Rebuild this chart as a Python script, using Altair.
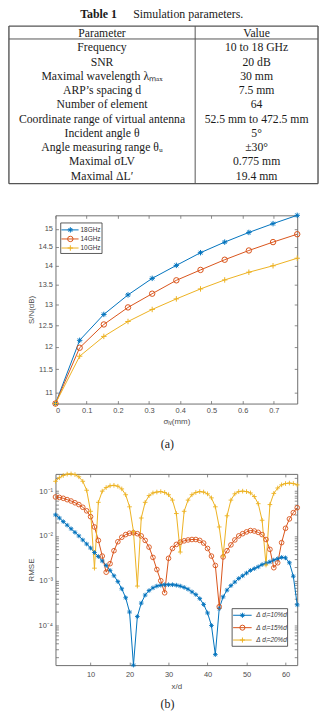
import altair as alt
import pandas as pd

# ---------------- data ----------------
table_title_bold = "Table 1"
table_title_text = "Simulation parameters."
table_parameters = [
    "Parameter", "Frequency", "SNR", "Maximal wavelength λₘₐₓ", "ARP’s spacing d",
    "Number of element", "Coordinate range of virtual antenna", "Incident angle θ",
    "Angle measuring range θᵤ", "Maximal σLV", "Maximal ΔL′",
]
table_values = [
    "Value", "10 to 18 GHz", "20 dB", "30 mm", "7.5 mm", "64", "52.5 mm to 472.5 mm",
    "5°", "±30°", "0.775 mm", "19.4 mm",
]

sigma_lv = [0, 0.0775, 0.155, 0.2325, 0.31, 0.3875, 0.465, 0.5425, 0.62, 0.6975, 0.775]
snr_18ghz = [10.78, 12.15, 12.76, 13.24, 13.66, 14.00, 14.34, 14.63, 14.90, 15.15, 15.39]
snr_14ghz = [10.78, 11.98, 12.52, 12.93, 13.27, 13.61, 13.88, 14.15, 14.40, 14.63, 14.85]
snr_10ghz = [10.78, 11.79, 12.24, 12.59, 12.88, 13.14, 13.39, 13.62, 13.82, 13.99, 14.19]
series_a = ["18GHz", "14GHz", "10GHz"]
snr_ticks = [11, 11.5, 12, 12.5, 13, 13.5, 14, 14.5, 15]
sigma_ticks = [0, 0.1, 0.2, 0.3, 0.4, 0.5, 0.6, 0.7]

x_over_d = list(range(1, 64))
# RMSE values, as base-10 exponents
rmse_10pct_exp = [
    -1.53, -1.60, -1.68, -1.76, -1.84, -1.92, -2.00, -2.09, -2.18, -2.27,
    -2.37, -2.46, -2.56, -2.66, -2.77, -2.89, -3.02, -3.18, -3.38, -3.70,
    -4.885, -3.80, -3.50, -3.32, -3.22, -3.16, -3.12, -3.10, -3.09, -3.09,
    -3.09, -3.10, -3.12, -3.15, -3.19, -3.25, -3.31, -3.40, -3.53, -3.72,
    -4.00, -4.65, -3.62, -3.36, -3.21, -3.11, -3.03, -2.95, -2.89, -2.83,
    -2.77, -2.73, -2.69, -2.64, -2.61, -2.58, -2.54, -2.51, -2.48, -2.49,
    -2.60, -2.90, -3.54,
]
rmse_15pct_exp = [
    -1.13, -1.14, -1.16, -1.19, -1.22, -1.26, -1.30, -1.36, -1.44, -1.57,
    -1.80, -2.10, -2.45, -2.81, -2.62, -2.33, -2.13, -2.03, -1.97, -1.94,
    -1.93, -1.95, -2.00, -2.10, -2.25, -2.48, -2.75, -3.00, -3.27, -2.50,
    -2.28, -2.19, -2.14, -2.11, -2.09, -2.08, -2.08, -2.10, -2.16, -2.28,
    -2.45, -2.66, -3.58, -2.47, -2.33, -2.20, -2.09, -2.00, -1.95, -1.91,
    -1.88, -1.89, -1.92, -1.97, -2.08, -2.30, -2.71, -2.60, -2.15, -1.83,
    -1.62, -1.48, -1.37,
]
rmse_20pct_exp = [
    -0.78, -0.70, -0.65, -0.62, -0.615, -0.63, -0.68, -0.78, -0.98, -1.45,
    -2.72, -1.25, -1.00, -0.92, -0.88, -0.87, -0.89, -0.95, -1.08, -1.35,
    -1.90, -3.12, -1.60, -1.25, -1.10, -1.04, -1.02, -1.01, -1.03, -1.08,
    -1.20, -1.50, -2.36, -1.45, -1.20, -1.08, -1.03, -1.01, -1.02, -1.06,
    -1.15, -1.35, -1.80, -2.45, -1.55, -1.20, -1.06, -1.01, -1.00, -1.01,
    -1.04, -1.12, -1.28, -1.65, -2.65, -1.30, -1.05, -0.93, -0.86, -0.83,
    -0.82, -0.83, -0.86,
]
series_b = ["Δ dₗ=10%d", "Δ dₗ=15%d", "Δ dₗ=20%d"]
xd_ticks = [10, 20, 30, 40, 50, 60]

colors = ["#0072BD", "#D95319", "#EDB120"]
ASTERISK = "M-1,0L1,0M0,-1L0,1M-0.7,-0.7L0.7,0.7M-0.7,0.7L0.7,-0.7"
PLUS = "M-1,0L1,0M0,-1L0,1"
shapes = [ASTERISK, "circle", PLUS]

# ---------------- styling helpers ----------------
W = 244
SANS = "Liberation Sans"
SERIF = "Liberation Serif"
TXT = "#4d4d4d"
BOX = "#6e6e6e"
one = pd.DataFrame({"k": [0]})


def axis(orient, values, title="", labels=True, fmt=None, label_expr=None, title_pad=2, label_pad=6):
    kw = dict(
        orient=orient, values=values, grid=False, domain=False, ticks=True,
        tickSize={"expr": "-3"}, tickColor=BOX, tickWidth=0.8,
        labels=labels, labelFont=SANS, labelFontSize=7.5, labelColor=TXT,
        labelPadding=label_pad, title=title, titleFont=SANS, titleFontSize=8,
        titleFontWeight="normal", titleColor=TXT, titlePadding=title_pad,
    )
    if fmt:
        kw["format"] = fmt
    if label_expr:
        kw["labelExpr"] = label_expr
    return alt.Axis(**kw)


# ---------------- Table panel ----------------
trows = []
for i, (p, v) in enumerate(zip(table_parameters, table_values)):
    trows.append({"row": i, "col": "param", "text": p})
    trows.append({"row": i, "col": "value", "text": v})
tdf = pd.DataFrame(trows)

table_text = alt.Chart(tdf).mark_text(
    font=SERIF, fontSize=11.8, color="#1a1a1a", baseline="middle", align="center"
).encode(
    x=alt.X("col:N", scale=alt.Scale(type="point", domain=["param", "value"], range=[47, 203], padding=0), axis=None),
    y=alt.Y("row:O", scale=alt.Scale(type="point", domain=list(range(len(table_parameters))), range=[7, 151], padding=0), axis=None),
    text="text:N",
)

TL, TR, TB = -47, 265, 159


def hrule(y, w=1.4):
    return alt.Chart(one).mark_rule(color="#555", strokeWidth=w).encode(
        x=alt.value(TL), x2=alt.value(TR), y=alt.value(y))


def vrule(x, w=1.4):
    return alt.Chart(one).mark_rule(color="#555", strokeWidth=w).encode(
        x=alt.value(x), y=alt.value(0), y2=alt.value(TB))


title_bold = alt.Chart(one).mark_text(font=SERIF, fontSize=12, fontWeight="bold", color="#1a1a1a").encode(
    x=alt.value(43.5), y=alt.value(-12), text=alt.value(table_title_bold))
title_rest = alt.Chart(one).mark_text(font=SERIF, fontSize=12, color="#1a1a1a").encode(
    x=alt.value(134), y=alt.value(-12), text=alt.value(table_title_text))
table_pad = alt.Chart(one).mark_rect(opacity=0).encode(
    x=alt.value(0), x2=alt.value(1), y=alt.value(0), y2=alt.value(165))

table_panel = alt.layer(
    table_pad, hrule(0), hrule(TB), vrule(TL), vrule(TR), hrule(13, 1), vrule(141, 1),
    title_bold, title_rest, table_text,
).properties(width=W, height=165, view=alt.ViewBackground(stroke="transparent"))

# ---------------- Chart (a) ----------------
dfa = pd.DataFrame({
    "sigma": sigma_lv * 3,
    "snr": snr_18ghz + snr_14ghz + snr_10ghz,
    "series": [s for s in series_a for _ in sigma_lv],
})
all_snr = snr_18ghz + snr_14ghz + snr_10ghz
xa = alt.Scale(domain=[0, 0.775], nice=False, zero=False)
ya = alt.Scale(type="log", domain=[min(all_snr), max(all_snr)], nice=False)
col_a = alt.Scale(domain=series_a, range=colors)
shp_a = alt.Scale(domain=series_a, range=shapes)

line_a = alt.Chart(dfa).mark_line(strokeWidth=1).encode(
    x=alt.X("sigma:Q", scale=xa, axis=axis("bottom", sigma_ticks, "σₗᵥ(mm)", fmt="~g", title_pad=4)),
    y=alt.Y("snr:Q", scale=ya, axis=axis("left", snr_ticks, "S/N(dB)", fmt="~g", title_pad=3)),
    color=alt.Color("series:N", scale=col_a, legend=None),
)
pts_a = alt.Chart(dfa).mark_point(filled=False, size=30, strokeWidth=1, opacity=1).encode(
    x=alt.X("sigma:Q", scale=xa, axis=axis("top", sigma_ticks, labels=False)),
    y=alt.Y("snr:Q", scale=ya, axis=axis("right", snr_ticks, labels=False)),
    color=alt.Color("series:N", scale=col_a, legend=None),
    shape=alt.Shape("series:N", scale=shp_a, legend=None),
)
leg_a_df = pd.DataFrame({"series": series_a})
ly_a = alt.Scale(type="point", domain=series_a, range=[14.7, 33], padding=0)
leg_a_box = alt.Chart(one).mark_rect(fill="white", stroke="#333", strokeWidth=0.8).encode(
    x=alt.value(5.3), x2=alt.value(47), y=alt.value(7.7), y2=alt.value(38.5))
leg_a_line = alt.Chart(leg_a_df).mark_rule(strokeWidth=1).encode(
    x=alt.value(6), x2=alt.value(23.3), y=alt.Y("series:N", scale=ly_a, axis=None),
    color=alt.Color("series:N", scale=col_a, legend=None))
leg_a_pt = alt.Chart(leg_a_df).mark_point(filled=False, size=30, strokeWidth=1, opacity=1).encode(
    x=alt.value(15), y=alt.Y("series:N", scale=ly_a, axis=None),
    color=alt.Color("series:N", scale=col_a, legend=None),
    shape=alt.Shape("series:N", scale=shp_a, legend=None))
leg_a_txt = alt.Chart(leg_a_df).mark_text(font=SANS, fontSize=6.5, color="#333", align="left", baseline="middle").encode(
    x=alt.value(25.3), y=alt.Y("series:N", scale=ly_a, axis=None), text="series:N")

chart_a = alt.layer(line_a, pts_a, leg_a_box, leg_a_line, leg_a_pt, leg_a_txt).resolve_scale(
    y="independent").resolve_axis(x="independent", y="independent").properties(
    width=W, height=190, view=alt.ViewBackground(stroke=BOX, strokeWidth=1),
    title=alt.TitleParams("(a)", orient="bottom", anchor="middle", frame="group", font=SERIF,
                          fontSize=12, fontWeight="normal", color="#1a1a1a", offset=13, dx=-9),
)

# ---------------- Chart (b) ----------------
rmse_exp_all = rmse_10pct_exp + rmse_15pct_exp + rmse_20pct_exp
dfb = pd.DataFrame({
    "xd": x_over_d * 3,
    "rmse": [10 ** e for e in rmse_exp_all],
    "series": [s for s in series_b for _ in x_over_d],
})
xb = alt.Scale(domain=[1, 63], nice=False, zero=False)
yb = alt.Scale(type="log", domain=[10 ** min(rmse_exp_all), 10 ** max(rmse_exp_all)], nice=False)
col_b = alt.Scale(domain=series_b, range=colors)
shp_b = alt.Scale(domain=series_b, range=shapes)
rmse_ticks = [k * 10.0 ** e for e in range(-5, 0) for k in range(1, 10)
              if 10 ** min(rmse_exp_all) <= k * 10.0 ** e <= 10 ** max(rmse_exp_all)]
decade_expr = (
    "abs(log(datum.value)/LN10 - round(log(datum.value)/LN10)) < 0.01 ? "
    "('10' + (datum.value < 0.0005 ? '⁻⁴' : datum.value < 0.005 ? '⁻³' : datum.value < 0.05 ? '⁻²' : '⁻¹')) : ''"
)

line_b = alt.Chart(dfb).mark_line(strokeWidth=1).encode(
    x=alt.X("xd:Q", scale=xb, axis=axis("bottom", xd_ticks, "x/d", fmt="d", title_pad=5, label_pad=8)),
    y=alt.Y("rmse:Q", scale=yb, axis=axis("left", rmse_ticks, "RMSE", label_expr=decade_expr, title_pad=3)),
    color=alt.Color("series:N", scale=col_b, legend=None),
)
pts_b = alt.Chart(dfb).mark_point(filled=False, size=22, strokeWidth=0.9, opacity=1).encode(
    x=alt.X("xd:Q", scale=xb, axis=axis("top", xd_ticks, labels=False)),
    y=alt.Y("rmse:Q", scale=yb, axis=axis("right", rmse_ticks, labels=False)),
    color=alt.Color("series:N", scale=col_b, legend=None),
    shape=alt.Shape("series:N", scale=shp_b, legend=None),
)
leg_b_df = pd.DataFrame({"series": series_b})
ly_b = alt.Scale(type="point", domain=series_b, range=[142.7, 167.7], padding=0)
leg_b_box = alt.Chart(one).mark_rect(fill="white", stroke="#333", strokeWidth=0.8).encode(
    x=alt.value(178.3), x2=alt.value(234.3), y=alt.value(136), y2=alt.value(174))
leg_b_line = alt.Chart(leg_b_df).mark_rule(strokeWidth=1).encode(
    x=alt.value(179.3), x2=alt.value(198), y=alt.Y("series:N", scale=ly_b, axis=None),
    color=alt.Color("series:N", scale=col_b, legend=None))
leg_b_pt = alt.Chart(leg_b_df).mark_point(filled=False, size=26, strokeWidth=1, opacity=1).encode(
    x=alt.value(188.7), y=alt.Y("series:N", scale=ly_b, axis=None),
    color=alt.Color("series:N", scale=col_b, legend=None),
    shape=alt.Shape("series:N", scale=shp_b, legend=None))
leg_b_txt = alt.Chart(leg_b_df).mark_text(font=SANS, fontSize=6.5, fontStyle="italic", color="#333",
                                          align="left", baseline="middle").encode(
    x=alt.value(202.7), y=alt.Y("series:N", scale=ly_b, axis=None), text="series:N")

chart_b = alt.layer(line_b, pts_b, leg_b_box, leg_b_line, leg_b_pt, leg_b_txt).resolve_scale(
    y="independent").resolve_axis(x="independent", y="independent").properties(
    width=W, height=193, view=alt.ViewBackground(stroke=BOX, strokeWidth=1),
    title=alt.TitleParams("(b)", orient="bottom", anchor="middle", frame="group", font=SERIF,
                          fontSize=12, fontWeight="normal", color="#1a1a1a", offset=9, dx=-9),
)

chart = alt.vconcat(table_panel, chart_a, chart_b, spacing=19).properties(
    padding={"left": 7, "top": 4, "right": 0, "bottom": 0},
    background="white",
)

chart.save("out.html", embed_options={"renderer": "svg", "actions": False})
